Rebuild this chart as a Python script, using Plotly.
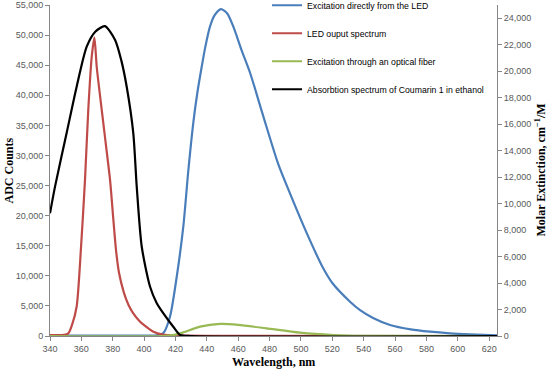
import plotly.graph_objects as go

# Excitation directly from the LED (ADC counts, left axis)
blue_wl = [340, 380, 400, 408, 412.3, 416.5, 420.8, 425, 428.2, 431.4, 434, 436.7, 439, 442, 445, 449, 453,
           456.9, 462, 467.6, 476, 485.6, 493, 503.7, 514.3, 520, 531.3, 537.7, 546, 556.8, 570, 582.3, 595, 607.9, 625]
blue_val = [50, 50, 60, 120, 500, 3200, 9850, 18200, 27500, 35500, 40500, 44700, 48000, 51400, 53300, 54300, 53600,
            51400, 47600, 43700, 36500, 28500, 23700, 17100, 11200, 8800, 5700, 4300, 3000, 1830, 1100, 720, 450, 280, 120]

# LED output spectrum (ADC counts, left axis)
red_wl = [340, 349, 351.7, 354, 357, 359.8, 362.3, 364.4, 366.6, 368.3, 369.8, 373, 376, 378.3,
          380.5, 382.2, 384, 387, 390, 393.1, 397, 400, 405.9, 412, 420, 440, 625]
red_val = [150, 180, 440, 1800, 4900, 14800, 25900, 37550, 46400, 49600, 44700, 37550, 31000, 25900,
           19000, 14000, 10500, 7300, 5200, 3770, 2500, 1800, 720, 250, 100, 30, 0]

# Excitation through an optical fiber (ADC counts, left axis)
green_wl = [340, 412, 418.6, 425, 435.7, 448.4, 460, 478, 499.4, 520.6, 540, 625]
green_val = [0, 0, 170, 600, 1550, 2000, 1850, 1270, 550, 170, 40, 0]

# Absorption spectrum of Coumarin 1 in ethanol (molar extinction, right axis)
black_wl = [340, 343.2, 350.6, 357, 363.4, 369, 375, 381.5, 385.5, 388.9, 393.1, 395.3, 398.5, 403.8,
            408, 412.3, 418.6, 423, 430, 625]
black_val = [9270, 11280, 15330, 18830, 21850, 23000, 23400, 22360, 20800, 18830, 15330, 11280, 6740, 3720,
             2500, 1710, 700, 75, 0, 0]

x_ticks = list(range(340, 621, 20))
left_ticks = list(range(0, 55001, 5000))
right_ticks = list(range(0, 24001, 2000))

fig = go.Figure()
series = [
    ("Excitation directly from the LED", blue_wl, blue_val, "#4A7EBB", "y"),
    ("LED ouput spectrum", red_wl, red_val, "#BE4B48", "y"),
    ("Excitation through an optical fiber", green_wl, green_val, "#98B954", "y"),
    ("Absorbtion spectrum of Coumarin 1 in ethanol", black_wl, black_val, "#000000", "y2"),
]
for i, (name, xs, ys, col, ax) in enumerate(series):
    fig.add_trace(go.Scatter(x=xs, y=ys, name=name, mode="lines", yaxis=ax,
                             legendgroup=str(i),
                             line=dict(color=col, width=2.2, shape="spline", smoothing=0.7)))

tickfont = dict(family="Liberation Sans", size=9, color="#595959")
titlefont = dict(family="Liberation Serif", size=12, color="#000000")
fig.update_layout(
    width=550, height=371,
    margin=dict(l=50, r=53, t=5, b=35, autoexpand=False),
    plot_bgcolor="white", paper_bgcolor="white",
    showlegend=True,
    legend=dict(x=0.4855, y=1.043, xanchor="left", yanchor="top",
                font=dict(family="Liberation Sans", size=8.7, color="#000000"),
                tracegroupgap=9, bgcolor="rgba(0,0,0,0)", itemwidth=30),
    xaxis=dict(range=[340, 625], tickvals=x_ticks, ticks="outside", ticklen=4,
               tickcolor="#868686", showline=True, linecolor="#868686", linewidth=1,
               showgrid=False, zeroline=False, tickfont=tickfont, ticklabeloverflow="allow"),
    yaxis=dict(range=[0, 55000], tickvals=left_ticks, tickformat=",d", ticks="outside", ticklen=4,
               tickcolor="#868686", showline=True, linecolor="#868686", linewidth=1,
               showgrid=False, zeroline=False, tickfont=tickfont, ticklabeloverflow="allow"),
    yaxis2=dict(range=[0, 25000], tickvals=right_ticks, tickformat=",d", overlaying="y", side="right",
                ticks="outside", ticklen=4, tickcolor="#868686", showline=True, linecolor="#868686",
                linewidth=1, showgrid=False, zeroline=False, tickfont=tickfont, ticklabeloverflow="allow"),
    annotations=[
        dict(text="<b>Wavelength, nm</b>", xref="paper", yref="paper", x=0.5, y=-0.08,
             xanchor="center", yanchor="middle", showarrow=False, font=titlefont),
        dict(text="<b>ADC Counts</b>", xref="paper", x=-42 / 447, yref="paper", y=0.5,
             xanchor="center", yanchor="middle", textangle=-90, showarrow=False, font=titlefont),
        dict(text="<b>Molar Extinction, cm<sup>\u22121</sup>/M</b>", xref="paper", x=1 + 43 / 447,
             yref="paper", y=0.5, xanchor="center", yanchor="middle", textangle=-90,
             showarrow=False, font=titlefont),
    ],
)
fig.write_html("out.html", config={"displayModeBar": False},
               post_script="document.body.style.margin='0';document.body.style.overflow='hidden';")
